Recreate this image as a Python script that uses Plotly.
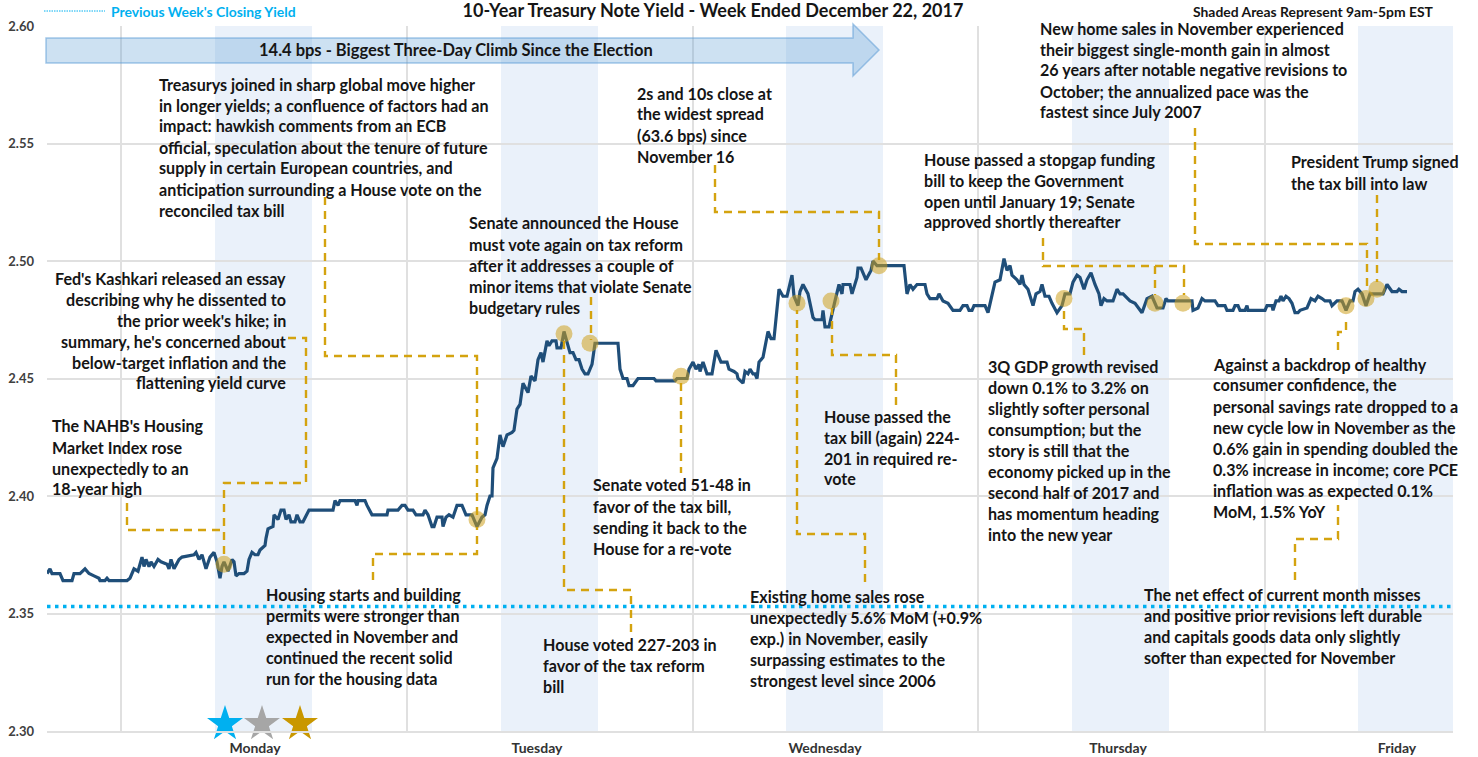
import plotly.graph_objects as go

# Horizontal axis: running index of five-minute bars from the start of the week
time_index = [
    0,3,5,13,16,25,27,33,38,42,47,52,53,58,60,62,80,83,87,91,95,97,99,102,104,107,111,114,120,122,124,127,132,135,147,149,
    152,155,159,163,167,170,173,175,177,181,185,187,189,192,197,200,202,205,208,211,213,218,219,221,226,227,231,234,237,239,
    242,244,248,250,253,256,262,286,288,291,293,308,310,311,318,320,325,340,341,351,355,358,361,366,369,376,378,381,385,387,
    390,395,396,399,402,406,410,415,419,425,430,435,438,440,443,445,446,450,453,456,460,465,467,470,473,476,481,484,488,491,
    494,496,500,502,505,509,510,514,517,520,523,526,529,532,535,538,541,545,548,551,571,573,576,580,582,586,590,591,607,609,
    628,630,640,642,646,649,652,653,656,660,665,669,671,674,680,682,687,690,691,695,696,698,701,703,706,708,710,712,716,721,
    724,727,732,736,740,745,747,751,753,756,761,766,768,775,776,778,782,788,792,795,796,803,805,810,811,814,819,824,826,830,
    835,857,860,863,866,870,878,880,883,890,892,896,901,906,913,916,920,922,925,927,938,941,948,953,957,960,963,965,970,973,
    975,977,981,986,989,993,995,998,1002,1005,1010,1015,1018,1023,1026,1030,1033,1037,1040,1044,1048,1052,1054,1057,1060,
    1066,1070,1073,1076,1083,1088,1095,1100,1105,1110,1116,1119,1121,1145,1146,1151,1155,1158,1168,1171,1178,1180,1186,1188,
    1191,1193,1198,1200,1201,1218,1220,1225,1226,1229,1232,1234,1236,1239,1242,1245,1248,1251,1253,1260,1264,1268,1271,1275,
    1278,1283,1285,1290,1295,1299,1303,1306,1308,1311,1315,1319,1323,1330,1336,1340,1345,1350,1352,1355,1360,
]
yield_10y = [
    2.367,2.369,2.367,2.367,2.364,2.364,2.367,2.367,2.369,2.367,2.366,2.365,2.364,2.364,2.365,2.364,2.364,2.365,2.369,2.368,2.374,2.370,2.373,2.370,2.372,2.370,2.373,2.372,2.371,2.369,2.373,2.369,2.373,2.374,2.375,2.376,
    2.373,2.375,2.369,2.374,2.376,2.372,2.365,2.370,2.372,2.368,2.373,2.372,2.366,2.367,2.367,2.368,2.373,2.376,2.375,2.375,2.377,2.379,2.382,2.386,2.387,2.392,2.390,2.394,2.394,2.390,
    2.392,2.389,2.389,2.392,2.389,2.389,2.394,2.394,2.398,2.396,2.398,2.398,2.396,2.398,2.398,2.396,2.392,2.392,2.394,2.394,2.396,2.396,2.394,2.394,2.392,2.392,2.394,2.392,2.387,2.387,
    2.391,2.391,2.387,2.391,2.392,2.391,2.396,2.396,2.392,2.392,2.387,2.391,2.392,2.396,2.400,2.400,2.412,2.416,2.426,2.421,2.426,2.427,2.428,2.437,2.439,2.448,2.444,2.451,2.449,2.458,
    2.461,2.457,2.466,2.464,2.466,2.466,2.463,2.463,2.470,2.466,2.461,2.461,2.458,2.458,2.454,2.452,2.452,2.456,2.465,2.465,2.465,2.454,2.450,2.450,2.447,2.447,2.449,2.450,2.450,2.449,
    2.449,2.450,2.450,2.454,2.457,2.454,2.456,2.453,2.457,2.452,2.452,2.462,2.460,2.457,2.457,2.454,2.453,2.452,2.450,2.448,2.448,2.453,2.452,2.454,2.452,2.452,2.450,2.457,2.459,2.470,
    2.467,2.467,2.488,2.485,2.485,2.494,2.485,2.481,2.487,2.490,2.486,2.476,2.475,2.475,2.479,2.472,2.472,2.483,2.490,2.486,2.490,2.490,2.486,2.493,2.497,2.497,2.492,2.496,2.500,2.498,
    2.498,2.498,2.486,2.490,2.488,2.490,2.490,2.486,2.484,2.484,2.486,2.483,2.482,2.479,2.479,2.481,2.481,2.479,2.479,2.481,2.481,2.478,2.491,2.492,2.501,2.496,2.498,2.494,2.492,2.490,
    2.494,2.490,2.488,2.481,2.486,2.487,2.490,2.485,2.485,2.482,2.478,2.481,2.486,2.486,2.491,2.494,2.493,2.488,2.492,2.495,2.490,2.486,2.481,2.484,2.483,
    2.483,2.488,2.486,2.486,2.483,2.482,2.478,2.484,2.485,2.480,2.480,2.484,2.483,2.483,2.479,2.480,2.484,2.483,2.483,2.481,2.481,2.479,2.479,2.481,
    2.481,2.479,2.479,2.481,2.479,2.479,2.481,2.481,2.479,2.483,2.483,2.485,2.483,2.485,2.484,2.482,2.478,2.478,2.479,2.480,2.484,2.483,2.485,2.484,
    2.483,2.483,2.481,2.483,2.483,2.479,2.483,2.483,2.487,2.488,2.486,2.481,2.486,2.486,2.486,2.490,2.487,2.487,2.488,2.487,2.487,
]
prev_close_value = 2.353
event_index = [177,430,517,543,634,750,784,832,1017,1108,1136,1299,1319,1330]
event_yield = [2.371,2.390,2.469,2.465,2.451,2.482,2.483,2.498,2.484,2.482,2.482,2.481,2.484,2.488]
star_index = [178,215,253]
star_yield = [2.303,2.303,2.303]
star_colors = ["#00B0F0","#A6A6A6","#C99700"]
day_labels = ["Monday","Tuesday","Wednesday","Thursday","Friday"]
day_centres = [208,490,778,1071,1350]
grid_index = [74,360,646,931,1218]
y_ticks = [2.30,2.35,2.40,2.45,2.50,2.55,2.60]
shade_starts = [168,454,739,1025,1311]
shade_ends = [265,551,836,1122,1406]

# Call-outs: left/right pixel, first-line centre, anchor, lines
notes = [
    (51,426,"left",["The NAHB's Housing","Market Index rose","unexpectedly to an","18-year high"]),
    (287,278,"right",["Fed's Kashkari released an essay","describing why he dissented to","the prior week's hike; in","summary, he's concerned about","below-target inflation and the","flattening yield curve"]),
    (158,84,"left",["Treasurys joined in sharp global move higher","in longer yields; a confluence of factors had an","impact: hawkish comments from an ECB","official, speculation about the tenure of future","supply in certain European countries, and","anticipation surrounding a House vote on the","reconciled tax bill"]),
    (265,594,"left",["Housing starts and building","permits were stronger than","expected in November and","continued the recent solid","run for the housing data"]),
    (542,644,"left",["House voted 227-203 in","favor of the tax reform","bill"]),
    (468,223,"left",["Senate announced the House","must vote again on tax reform","after it addresses a couple of","minor items that violate Senate","budgetary rules"]),
    (592,485,"left",["Senate voted 51-48 in","favor of the tax bill,","sending it back to the","House for a re-vote"]),
    (636,93,"left",["2s and 10s close at","the widest spread","(63.6 bps) since","November 16"]),
    (823,416,"left",["House passed the","tax bill (again) 224-","201 in required re-","vote"]),
    (749,596,"left",["Existing home sales rose","unexpectedly 5.6% MoM (+0.9%","exp.) in November, easily","surpassing estimates to the","strongest level since 2006"]),
    (1039,28,"left",["New home sales in November experienced","their biggest single-month gain in almost","26 years after notable negative revisions to","October; the annualized pace was the","fastest since July 2007"]),
    (923,159,"left",["House passed a stopgap funding","bill to keep the Government","open until January 19; Senate","approved shortly thereafter"]),
    (987,366,"left",["3Q GDP growth revised","down 0.1% to 3.2% on","slightly softer personal","consumption; but the","story is still that the","economy picked up in the","second half of 2017 and","has momentum heading","into the new year"]),
    (1290,162,"left",["President Trump signed","the tax bill into law"]),
    (1212,364,"left",["Against a backdrop of healthy","consumer confidence, the","personal savings rate dropped to a","new cycle low in November as the","0.6% gain in spending doubled the","0.3% increase in income; core PCE","inflation was as expected 0.1%","MoM, 1.5% YoY"]),
    (1143,594,"left",["The net effect of current month misses","and positive prior revisions left durable","and capitals goods data only slightly","softer than expected for November"]),
]
# Dashed leader routes in page pixels
leaders = [
    [(127,503),(127,530),(222,530)],
    [(288,338),(306,338),(306,483),(224,483),(224,560)],
    [(325,197),(325,356),(477,356),(477,520)],
    [(373,580),(373,554),(477,554),(477,527)],
    [(591,297),(591,340)],
    [(631,632),(631,590),(564,590),(564,340)],
    [(681,383),(681,473)],
    [(715,165),(715,212),(879,212),(879,260)],
    [(865,582),(865,534),(797,534),(797,310)],
    [(896,405),(896,355),(832,355),(832,308)],
    [(1043,238),(1043,266),(1184,266),(1184,295)],
    [(1155,266),(1155,295)],
    [(1084,355),(1084,329),(1064,329),(1064,305)],
    [(1195,128),(1195,244),(1367,244),(1367,290)],
    [(1377,195),(1377,282)],
    [(1338,350),(1338,332),(1346,332),(1346,318)],
    [(1295,580),(1295,539),(1338,539),(1338,505)],
]

FONT = "Lato"
TEXT = "#151515"
GOLD = "#D4A30F"
GRID = "#E0E0E0"
L, R, T, B = 47, 25, 26, 26
W, H = 1478, 757
def X(p): return (p - L) / (W - L - R)
def Y(p): return (H - B - p) / (H - T - B)

fig = go.Figure()
fig.add_trace(go.Scatter(x=[0, 1406], y=[prev_close_value]*2, mode="lines", showlegend=False,
                         line=dict(color="#00B0F0", width=3.5, dash="3.5px,4.5px")))
fig.add_trace(go.Scatter(x=time_index, y=yield_10y, mode="lines", showlegend=False,
                         line=dict(color="#1F4E79", width=3.2)))
fig.add_trace(go.Scatter(x=event_index, y=event_yield, mode="markers", showlegend=False,
                         marker=dict(size=17, color="rgba(205,160,30,0.55)", line=dict(width=0))))
fig.add_trace(go.Scatter(x=star_index, y=star_yield, mode="markers", showlegend=False, cliponaxis=False,
                         marker=dict(symbol="star", size=27, color=star_colors, line=dict(width=0))))

shapes = []
for a, b in zip(shade_starts, shade_ends):
    shapes.append(dict(type="rect", xref="x", yref="paper", x0=a, x1=b, y0=0, y1=1,
                       fillcolor="#EAF1FA", line=dict(width=0), layer="below"))
for route in leaders:
    path = "M " + " L ".join(f"{X(a):.5f},{Y(b):.5f}" for a, b in route)
    shapes.append(dict(type="path", xref="paper", yref="paper", path=path,
                       line=dict(color=GOLD, width=2.4, dash="8px,6px"), layer="above"))
arrow = [(46,38),(853,38),(853,24),(879,50),(853,76),(853,63),(46,63)]
shapes.append(dict(type="path", xref="paper", yref="paper",
                   path="M " + " L ".join(f"{X(a):.5f},{Y(b):.5f}" for a, b in arrow) + " Z",
                   fillcolor="rgba(91,155,213,0.30)", line=dict(color="rgba(91,155,213,0.55)", width=1.5), layer="above"))
shapes.append(dict(type="line", xref="paper", yref="paper", x0=X(44), x1=X(105), y0=Y(11), y1=Y(11),
                   line=dict(color="#00B0F0", width=1, dash="1.5px,1px")))

ann = []
def txt(px, py, s, anchor="left", size=16.1, color=TEXT):
    ann.append(dict(xref="paper", yref="paper", x=X(px), y=Y(py), text=s, showarrow=False, xanchor=anchor,
                    yanchor="middle", align=anchor, borderpad=0,
                    font=dict(family=FONT, size=size, color=color, weight=700)))
for px, py, anchor, lines in notes:
    for i, line in enumerate(lines):
        txt(px, py + i * 21, line, anchor)
txt(456, 50, "14.4 bps - Biggest Three-Day Climb Since the Election", "center", 16.5)
txt(110, 11, "Previous Week's Closing Yield", "left", 13.9, "#00B0F0")
txt(1192, 11, "Shaded Areas Represent 9am-5pm EST", "left", 13.9)

fig.update_layout(
    width=W, height=H, autosize=False, margin=dict(l=L, r=R, t=T, b=B, autoexpand=False),
    paper_bgcolor="white", plot_bgcolor="white", shapes=shapes, annotations=ann,
    font=dict(family=FONT, color="#333333"),
    title=dict(text="10-Year Treasury Note Yield - Week Ended December 22, 2017", x=713/W, xanchor="center",
               y=1-11/H, yanchor="middle", font=dict(family=FONT, size=18, color=TEXT, weight=700)),
    xaxis=dict(range=[0, 1406], tickmode="array", tickvals=day_centres, ticktext=day_labels, showgrid=False, automargin=False,
               ticks="", showline=True, linecolor=GRID, linewidth=1.5, zeroline=False, ticklabelstandoff=3,
               tickfont=dict(family=FONT, size=14, color="#333333", weight=700),
               minor=dict(tickmode="array", tickvals=grid_index, showgrid=True, gridcolor=GRID, gridwidth=1.5, ticks="")),
    yaxis=dict(range=[2.30, 2.60], tickmode="array", tickvals=y_ticks, tickformat=".2f", showgrid=True, automargin=False,
               gridcolor=GRID, gridwidth=1.5, zeroline=False, ticks="", showline=False, ticklabelstandoff=12,
               tickfont=dict(family=FONT, size=13, color="#404040", weight=700)),
)
fig.write_html("out.html", post_script="document.body.style.margin='0';", config={"displayModeBar": False})
